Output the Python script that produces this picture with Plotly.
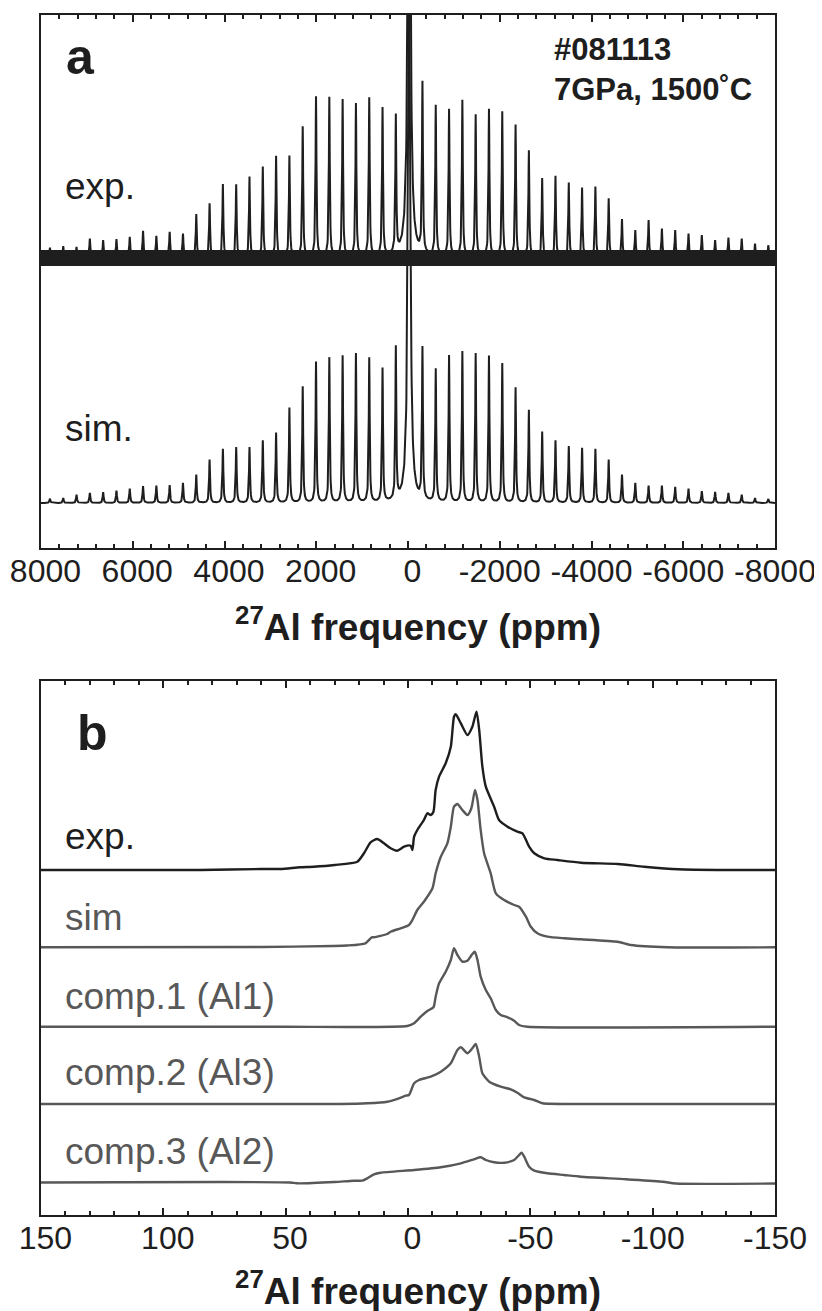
import numpy as np
import plotly.graph_objects as go

# ---------------- Panel a : 27Al MAS spinning-sideband manifold ----------------
# sideband positions (ppm) (centreband at -25 ppm)
sb_ppm = [-7855, -7565, -7275, -6985, -6695, -6405, -6115, -5825, -5535, -5245,
          -4955, -4665, -4375, -4085, -3795, -3505, -3215, -2925, -2635, -2345,
          -2055, -1765, -1475, -1185, -895, -605, -315, -25, 265, 555, 845, 1135,
          1425, 1715, 2005, 2295, 2585, 2875, 3165, 3455, 3745, 4035, 4325, 4615,
          4905, 5195, 5485, 5775, 6065, 6355, 6645, 6935, 7225, 7515, 7805]
# sideband heights (arbitrary units), same order as sb_ppm
exp_heights = [11.7, 13.3, 18.3, 19.3, 16.7, 21.7, 23.3, 26.7, 28.3, 36.7, 26.7, 37.7,
               58.3, 70, 69, 74, 80.7, 78.3, 106, 131.7, 145, 147.3, 141.7, 156, 146.7,
               150, 169.3, 600, 136.7, 147.7, 158.3, 152.7, 157, 159.3, 160, 130, 100.7,
               100.7, 90, 80, 72.3, 72.7, 53.3, 42.7, 23.3, 25, 21, 26, 20, 17.7, 16.7,
               18.3, 10, 10.7, 9.3]
sim_heights = [4, 5, 8.3, 10, 11, 11.7, 14.3, 16, 17.3, 17.3, 20, 28.3, 43.3, 54, 55,
               56.7, 62.3, 71, 92.7, 115, 139.3, 146.7, 149, 151, 146.7, 132.7, 151, 520,
               151.7, 133.3, 144.3, 149, 146.7, 145, 140.7, 116, 95, 70, 62.3, 55.7, 55.7,
               54, 43.3, 28.3, 20, 17.7, 17.3, 16.7, 14.3, 12.3, 10.7, 10, 8.3, 5, 4.3]
sb_hwhm = 12.0           # sideband half width (ppm)
center_hwhm = 30.0       # centre band half width (ppm)
exp_noise = (-9.0, 7.0)   # noise band of experimental trace (a.u.)
a_offsets = {"exp": 246.0, "sim": 0.0}
a_xrange = [8000, -8000]
a_yrange = [-45, 488]
a_tickvals = [8000, 6000, 4000, 2000, 0, -2000, -4000, -6000, -8000]
a_ticktext = ["8000", "6000", "4000", "2000", "0", "-2000", "-4000", "-6000", "-8000"]

# ---------------- Panel b : central transition ----------------
b_exp_ppm = [150, 100, 85, 60, 52.1, 44.1, 38.5, 30, 20.7, 18.0, 15.3, 12.6, 9.8, 7.1, 4.4,
             1.6, -1.1, -1.8, -2.5, -3.8, -6.5, -7.9, -9.3, -10.4, -11.3, -12.7, -15.4,
             -17.5, -18.8, -19.5, -21.6, -24.3, -26.3, -28.0, -29.1, -30.4, -31.8, -35.2,
             -37.2, -40.7, -44.7, -46.8, -49.5, -51.6, -55.7, -61.1, -70.7, -85.8, -96.5,
             -110.4, -130, -150]
b_exp_int = [0, 0, 0, 1, 1, 2.7, 3.3, 5, 8.3, 16.7, 27.7, 31, 26.7, 21.7, 19.3, 23.3, 24.3,
             20, 33.3, 40, 50, 56.7, 55, 58.3, 80, 93.3, 106.7, 123.3, 153.3, 155.7, 146.7,
             135, 143.3, 158.3, 140, 103.3, 83.3, 63.3, 50, 43.3, 38.3, 36.7, 23.3, 16.7,
             11.7, 10, 7.3, 6, 3.3, 0.7, 0, 0]
b_sim_ppm = [150, 60, 30.7, 25, 17.4, 14.8, 13.9, 8.5, 7.1, 3.0, -0.4, -1.8, -3.8, -6.5,
             -10.0, -11.3, -13.4, -16.1, -17.5, -18.8, -20.2, -22.2, -24.3, -25.9, -27.4,
             -28.4, -29.7, -31.1, -33.8, -35.9, -39.3, -43.4, -45.4, -48.2, -50.2, -52.9,
             -57.0, -63.8, -70.7, -85.7, -91.1, -106.1, -150]
b_sim_int = [0, 0.3, 1.3, 1.8, 4, 10, 10, 13.3, 15.6, 19, 22.3, 27.3, 37.3, 45.6, 59, 74,
             90.6, 104, 120.6, 140.6, 143.3, 137.3, 132.3, 139, 157.3, 147.3, 117.3, 94, 74,
             54, 47.3, 42.3, 40.6, 30.6, 20.6, 14, 10.6, 9, 8, 5.6, 2.3, 0, 0]
b_c1_ppm = [150, 52.1, 0.3, -2.5, -5.2, -7.9, -10.4, -11.3, -12.7, -15.4, -17.5, -18.8,
            -20.2, -22.2, -24.3, -26.3, -27.3, -28.4, -29.7, -31.8, -33.8, -35.9, -37.9,
            -40.7, -43.4, -45.4, -48.8, -150]
b_c1_int = [0, 0, 0.7, 3.4, 10, 15.7, 19.4, 30, 43.4, 55, 66.7, 78.4, 71.7, 65, 66, 72.7,
            75, 66.7, 50, 36.7, 28.4, 16.7, 11.7, 9.4, 6, 1.7, 0, 0]
b_c2_ppm = [150, 52.1, 27.6, 16.6, 8.5, 3.7, 1.0, -0.4, -2.5, -4.5, -9.3, -13.4, -17.5,
            -20.2, -21.6, -24.3, -26.3, -27.7, -29.1, -30.4, -33.2, -37.9, -42.0, -44.7,
            -47.5, -51.6, -55.0, -70.7, -150]
b_c2_int = [0, 0, 0, 0.7, 2.3, 5.7, 8.3, 9, 20.7, 24, 27.3, 32.3, 40.7, 54, 56.7, 50.7,
            55.7, 60, 47.3, 30.7, 22.3, 17.3, 14.7, 11.3, 6.7, 4, 0.7, 0, 0]
b_c3_ppm = [150, 48, 45.5, 30, 22.3, 18.7, 16.6, 13.9, 11.2, -2.5, -13.4, -21.6, -27.0,
            -29.7, -31.8, -35.2, -39.3, -43.4, -45.4, -46.4, -47.5, -49.5, -51.6, -57.0,
            -63.8, -70.7, -89.1, -104.2, -109.5, -150]
b_c3_int = [0, 0, -0.8, 0.5, 1.8, 1.8, 4.2, 8.2, 9.8, 12.5, 15.2, 19.2, 23.2, 25.2, 22.5,
            20.2, 19.8, 22.5, 27.5, 29.8, 25.8, 15.8, 11.8, 9.2, 7.5, 5.8, 3.2, 0.8, -1.0, -1]
b_offsets = {"exp": 345.0, "sim": 267.7, "c1": 188.3, "c2": 111.0, "c3": 32.5}
b_labels = ["exp.", "sim", "comp.1 (Al1)", "comp.2 (Al3)", "comp.3 (Al2)"]
b_xrange = [150, -150]
b_yrange = [0, 534]
b_tickvals = [150, 100, 50, 0, -50, -100, -150]
b_ticktext = ["150", "100", "50", "0", "-50", "-100", "-150"]

# ---------------- build figure ----------------
W, H = 822, 1311
PAGE_PAD = 8   # default body margin of the html page
FONT = "Liberation Sans, Arial, Helvetica, sans-serif"
BLACK = "#1e1e1e"
GRAY = "#585858"
NBSP = "\u00a0"


def px_x(p):
    return (p - PAGE_PAD) / W


def px_y(p):
    return 1 - (p - PAGE_PAD) / H


def label_pad(labels):
    # non-negative labels sit slightly right of their tick in the original
    return [(NBSP + t) if not t.startswith("-") else t for t in labels]


# line shapes for panel a built from the read sideband positions/heights
grid = np.arange(a_xrange[1], a_xrange[0] + 5, 5.0)


def manifold(heights):
    y = np.zeros_like(grid)
    for i, (pos, h) in enumerate(zip(sb_ppm, heights)):
        w = center_hwhm if i == len(sb_ppm) // 2 else sb_hwhm
        y += h * w * w / ((grid - pos) ** 2 + w * w)
    return y


fig = go.Figure()

# experimental noise band
lo, hi = exp_noise
fig.add_trace(go.Scatter(
    x=[a_xrange[0], a_xrange[1], a_xrange[1], a_xrange[0]],
    y=[a_offsets["exp"] + hi, a_offsets["exp"] + hi, a_offsets["exp"] + lo, a_offsets["exp"] + lo],
    fill="toself", fillcolor=BLACK, line=dict(width=0), mode="lines",
    xaxis="x", yaxis="y", hoverinfo="skip"))
fig.add_trace(go.Scatter(x=grid, y=manifold(exp_heights) + a_offsets["exp"], mode="lines",
                         line=dict(color=BLACK, width=2), xaxis="x", yaxis="y"))
fig.add_trace(go.Scatter(x=grid, y=manifold(sim_heights) + a_offsets["sim"], mode="lines",
                         line=dict(color=BLACK, width=2), xaxis="x", yaxis="y"))

# panel b traces
b_series = [("exp", b_exp_ppm, b_exp_int, BLACK),
            ("sim", b_sim_ppm, b_sim_int, GRAY),
            ("c1", b_c1_ppm, b_c1_int, GRAY),
            ("c2", b_c2_ppm, b_c2_int, GRAY),
            ("c3", b_c3_ppm, b_c3_int, GRAY)]
for key, xs, ys, col in b_series:
    fig.add_trace(go.Scatter(x=xs, y=np.array(ys) + b_offsets[key], mode="lines",
                             line=dict(color=col, width=2.4, shape="spline", smoothing=0.6),
                             xaxis="x2", yaxis="y2"))

xdom = [px_x(41), px_x(775)]
tickfont = dict(family=FONT, size=32, color=BLACK)


def xaxis(rng, tv, tt, minor_dtick, dom_y):
    return dict(range=rng, domain=xdom, anchor=dom_y, tickmode="array", tickvals=tv,
                ticktext=label_pad(tt), ticks="inside", ticklen=7, tickwidth=2,
                tickcolor=BLACK,
                minor=dict(tickmode="linear", tick0=0, dtick=minor_dtick, ticks="inside",
                           ticklen=4, tickwidth=1.5, tickcolor=BLACK),
                showline=True, linewidth=2, linecolor=BLACK, mirror="ticks",
                showgrid=False, zeroline=False, tickfont=tickfont, ticklabelstandoff=-6,
                tickangle=0, automargin=False, ticklabeloverflow="allow")


def yaxis(rng, dom, anchor):
    return dict(range=rng, domain=dom, anchor=anchor, showline=True, linewidth=2,
                linecolor=BLACK, mirror=True, ticks="", showticklabels=False,
                showgrid=False, zeroline=False, automargin=False)


fig.update_layout(
    width=W, height=H, margin=dict(l=0, r=0, t=0, b=0, autoexpand=False),
    paper_bgcolor="white", plot_bgcolor="white", showlegend=False,
    xaxis=xaxis(a_xrange, a_tickvals, a_ticktext, 400, "y"),
    yaxis=yaxis(a_yrange, [px_y(548), px_y(15)], "x"),
    xaxis2=xaxis(b_xrange, b_tickvals, b_ticktext, 10, "y2"),
    yaxis2=yaxis(b_yrange, [px_y(1215), px_y(681)], "x2"),
)

ann = []


def add_text(text, x, y, size, bold=False, color=BLACK, xanchor="left"):
    t = "<b>%s</b>" % text if bold else text
    ann.append(dict(text=t, x=px_x(x), y=px_y(y), xref="paper", yref="paper",
                    xanchor=xanchor, yanchor="middle", showarrow=False,
                    font=dict(family=FONT, size=size, color=color)))


add_text("a", 64, 57, 50, bold=True)
add_text("#081113", 552, 49, 31, bold=True)
add_text("7GPa, 1500˚C", 552, 89, 31, bold=True)
add_text("exp.", 63, 186, 37)
add_text("sim.", 63, 429, 37)
add_text("<sup>27</sup>Al frequency (ppm)", 418, 625, 37, bold=True, xanchor="center")

add_text("b", 75, 733, 50, bold=True)
b_label_y = [836, 917, 996, 1072, 1151]
b_label_col = [BLACK, GRAY, GRAY, GRAY, GRAY]
for lab, yy, cc in zip(b_labels, b_label_y, b_label_col):
    add_text(lab, 63, yy, 37, color=cc)
add_text("<sup>27</sup>Al frequency (ppm)", 418, 1288, 37, bold=True, xanchor="center")

fig.update_layout(annotations=ann)
fig.write_html("out.html")
